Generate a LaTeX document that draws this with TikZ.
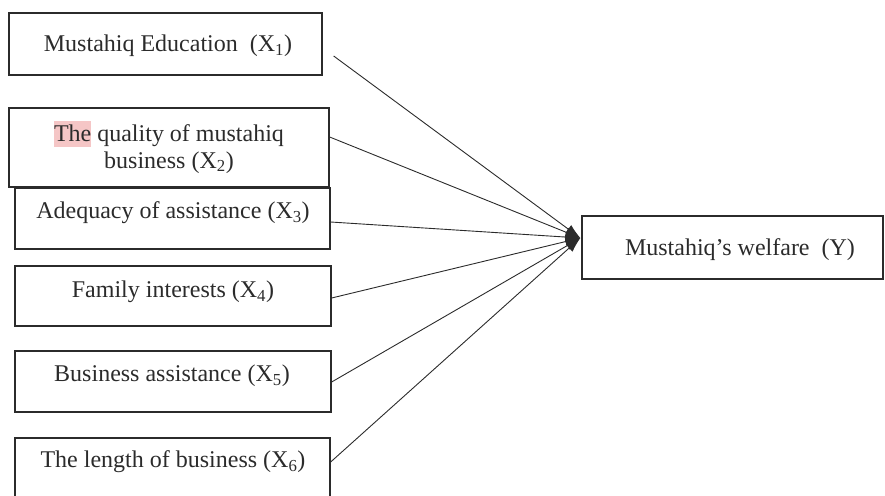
\documentclass[tikz,border=0pt]{standalone}
\usepackage{fontspec}
\setmainfont{Liberation Serif}
\usetikzlibrary{arrows.meta,calc}
\definecolor{ink}{HTML}{2B2B2B}
\definecolor{pinkhl}{HTML}{F5C6C6}
\begin{document}
\begin{tikzpicture}[x=1pt,y=-1pt,
  box/.style={draw=ink,line width=1.3pt,rectangle,inner sep=0pt},
  txt/.style={text=ink,font=\fontsize{24}{27}\selectfont,align=center,inner sep=0pt},
  link/.style={draw=ink,line width=0.9pt,-{Latex[length=15pt,width=10pt]}}]
\useasboundingbox (0,0) rectangle (885,495);
\clip (0,0) rectangle (885,495);
% boxes
\node[box,minimum width=313pt,minimum height=62pt] (b1) at (165.5,44) {};
\node[box,minimum width=320pt,minimum height=79pt] (b2) at (169,147.5) {};
\node[box,minimum width=315pt,minimum height=61pt] (b3) at (172.5,218.5) {};
\node[box,minimum width=316pt,minimum height=60pt] (b4) at (173,296) {};
\node[box,minimum width=316pt,minimum height=61pt] (b5) at (173,381.5) {};
\node[box,minimum width=315pt,minimum height=70pt] (b6) at (172.5,473) {};
\node[box,minimum width=301pt,minimum height=63pt] (y) at (732.5,247.5) {};
% texts
\node[txt] (t1) at (168,46) {Mustahiq Education\ \ (X\textsubscript{1})};
\node[txt] (t2) at (169,147) {\setlength{\fboxsep}{0pt}\colorbox{pinkhl}{\rule[-0.25em]{0pt}{1.1em}The} quality of mustahiq\\business (X\textsubscript{2})};
\node[txt] (t3) at (173,213) {Adequacy of assistance (X\textsubscript{3})};
\node[txt] (t4) at (173,292) {Family interests (X\textsubscript{4})};
\node[txt] (t5) at (172,376) {Business assistance (X\textsubscript{5})};
\node[txt] (t6) at (173,462) {The length of business (X\textsubscript{6})};
\node[txt] (ty) at (740,250) {Mustahiq’s welfare\ \ (Y)};
% connectors
\coordinate (tip) at ($(y.west)+(-1,-9.5)$);
\draw[link] ($(b1.east)+(11,12)$) -- (tip);
\draw[link] ($(b2.east)+(0,-10.5)$) -- (tip);
\draw[link] ($(b3.east)+(0,3.5)$) -- (tip);
\draw[link] ($(b4.east)+(0,2)$) -- (tip);
\draw[link] ($(b5.east)+(0,0.5)$) -- (tip);
\draw[link] ($(b6.east)+(0,-11)$) -- (tip);
\end{tikzpicture}
\end{document}
